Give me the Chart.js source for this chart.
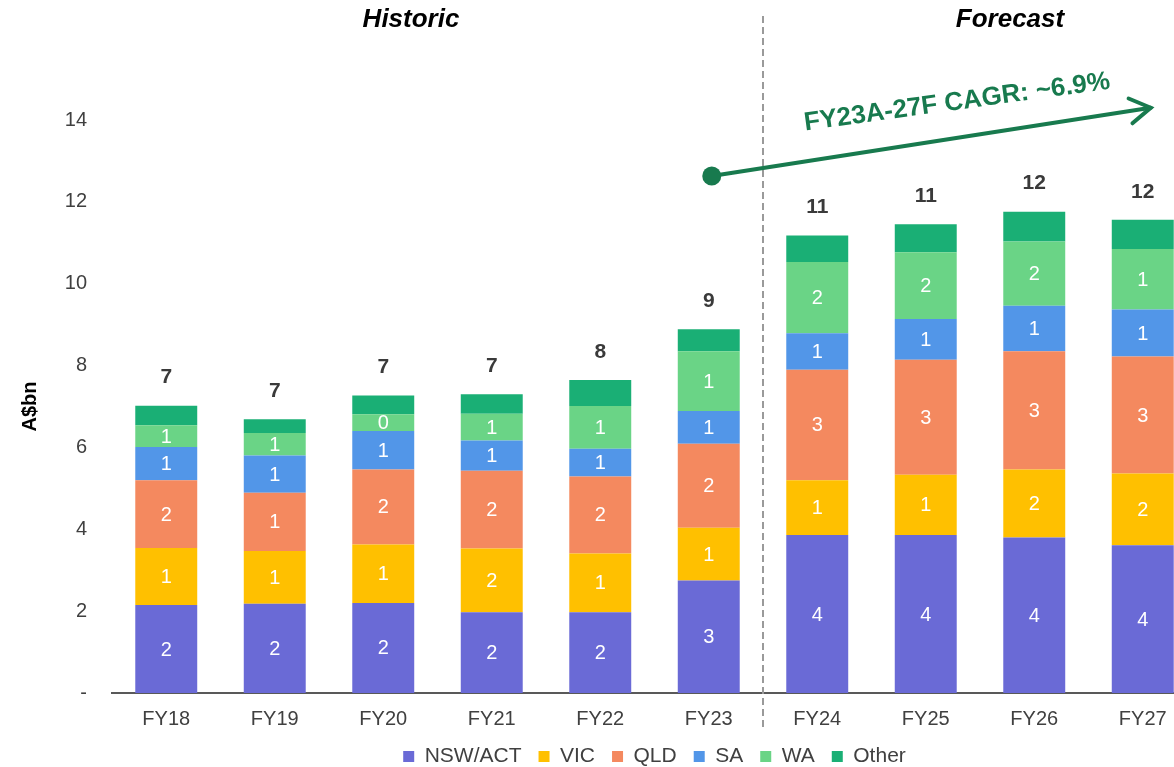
<!DOCTYPE html>
<html>
<head>
<meta charset="utf-8">
<script src="https://cdn.jsdelivr.net/npm/chart.js@4.4.1/dist/chart.umd.min.js"></script>
<style>
  html, body { margin: 0; padding: 0; background: #fff; overflow: hidden; }
  #wrap { width: 1210px; height: 777px; position: relative; }
</style>
</head>
<body>
<div id="wrap"><canvas id="grafico"></canvas></div>
<script>
// Datos (A$bn)
const categorias = ['FY18', 'FY19', 'FY20', 'FY21', 'FY22', 'FY23', 'FY24', 'FY25', 'FY26', 'FY27'];
const nswAct = [2.15, 2.18, 2.20, 1.97, 1.97, 2.75, 3.86, 3.86, 3.80, 3.61];
const vic    = [1.39, 1.29, 1.43, 1.56, 1.44, 1.29, 1.34, 1.47, 1.66, 1.75];
const qld    = [1.66, 1.42, 1.83, 1.90, 1.88, 2.05, 2.70, 2.81, 2.89, 2.86];
const sa     = [0.81, 0.91, 0.94, 0.74, 0.68, 0.80, 0.89, 1.00, 1.11, 1.15];
const wa     = [0.53, 0.55, 0.41, 0.65, 1.04, 1.46, 1.74, 1.63, 1.57, 1.48];
const otros  = [0.48, 0.34, 0.46, 0.48, 0.64, 0.54, 0.65, 0.68, 0.73, 0.71];
const ticksY = [0, 2, 4, 6, 8, 10, 12, 14];
const textoCagr = 'FY23A-27F CAGR: ~6.9%';

const FUENTE = '"Liberation Sans", Arial, sans-serif';
const VERDE = '#187A4E';

// 1) Plugin para etiquetas, linea divisoria y flecha CAGR
const anotaciones = {
  id: 'anotaciones',
  afterDatasetsDraw(chart) {
    const { ctx, scales: { x, y } } = chart;
    ctx.save();

    // etiquetas dentro de cada segmento (menos "Other")
    ctx.font = '20px ' + FUENTE;
    ctx.fillStyle = '#ffffff';
    ctx.textAlign = 'center';
    ctx.textBaseline = 'middle';
    for (let d = 0; d < 5; d++) {
      const meta = chart.getDatasetMeta(d);
      meta.data.forEach((el, i) => {
        const v = chart.data.datasets[d].data[i];
        ctx.fillText(String(Math.round(v)), el.x, (el.y + el.base) / 2 + 1);
      });
    }

    // totales arriba de cada barra
    ctx.font = 'bold 21px ' + FUENTE;
    ctx.fillStyle = '#3a3a3a';
    const ultimo = chart.getDatasetMeta(chart.data.datasets.length - 1);
    ultimo.data.forEach((el, i) => {
      let total = 0;
      chart.data.datasets.forEach(ds => { total += ds.data[i]; });
      ctx.fillText(String(Math.round(total)), el.x, el.y - 28);
    });

    // linea punteada entre historico y pronostico
    const xDiv = (x.getPixelForValue(5) + x.getPixelForValue(6)) / 2;
    ctx.strokeStyle = '#9a9a9a';
    ctx.lineWidth = 2;
    ctx.setLineDash([7, 4]);
    ctx.beginPath();
    ctx.moveTo(xDiv, 16);
    ctx.lineTo(xDiv, 730);
    ctx.stroke();
    ctx.setLineDash([]);

    // titulos de seccion
    ctx.font = 'italic bold 26px ' + FUENTE;
    ctx.fillStyle = '#000';
    ctx.fillText('Historic', 411, 20);
    ctx.fillText('Forecast', 1010, 20);

    // flecha CAGR
    const x0 = x.getPixelForValue(5) + 3, y0 = y.getPixelForValue(12.63);
    const x1 = x.getPixelForValue(9) + 8, y1 = y.getPixelForValue(14.3);
    const ang = Math.atan2(y1 - y0, x1 - x0);
    ctx.strokeStyle = VERDE;
    ctx.fillStyle = VERDE;
    ctx.lineWidth = 4;
    ctx.lineCap = 'round';
    ctx.beginPath();
    ctx.moveTo(x0, y0);
    ctx.lineTo(x1, y1);
    ctx.stroke();
    ctx.beginPath();
    ctx.moveTo(x1 - 24 * Math.cos(ang - 0.55), y1 - 24 * Math.sin(ang - 0.55));
    ctx.lineTo(x1, y1);
    ctx.lineTo(x1 - 24 * Math.cos(ang + 0.55), y1 - 24 * Math.sin(ang + 0.55));
    ctx.stroke();
    ctx.beginPath();
    ctx.arc(x0, y0, 9.5, 0, Math.PI * 2);
    ctx.fill();

    ctx.translate(958, 109.5);
    ctx.rotate(-7.8 * Math.PI / 180);
    ctx.font = 'bold 26px ' + FUENTE;
    ctx.textBaseline = 'alphabetic';
    ctx.fillText(textoCagr, 0, 0);

    ctx.restore();
  }
};

// 2) Armar el grafico
const ctx = document.getElementById('grafico').getContext('2d');
new Chart(ctx, {
  type: 'bar',
  data: {
    labels: categorias,
    datasets: [
      { label: 'NSW/ACT', data: nswAct, backgroundColor: '#6A6AD6' },
      { label: 'VIC',     data: vic,    backgroundColor: '#FFC000' },
      { label: 'QLD',     data: qld,    backgroundColor: '#F4895F' },
      { label: 'SA',      data: sa,     backgroundColor: '#5296E8' },
      { label: 'WA',      data: wa,     backgroundColor: '#6AD486' },
      { label: 'Other',   data: otros,  backgroundColor: '#1AAF75' }
    ]
  },
  options: {
    responsive: true,
    maintainAspectRatio: false,
    animation: false,
    layout: { padding: { top: 120, left: 14, right: 13, bottom: 0 } },
    datasets: { bar: { barPercentage: 0.571, categoryPercentage: 1, borderWidth: 0 } },
    scales: {
      x: {
        stacked: true,
        grid: { display: false, drawTicks: false },
        border: { display: true, color: '#595959', width: 2 },
        ticks: { color: '#404040', font: { family: FUENTE, size: 20 }, padding: 14 },
        afterFit: s => { s.height = 36; }
      },
      y: {
        stacked: true,
        min: 0,
        max: 14,
        grid: { display: false, drawTicks: false },
        border: { display: false },
        afterBuildTicks: s => { s.ticks = ticksY.map(v => ({ value: v })); },
        afterFit: s => { s.width = 98; },
        ticks: {
          color: '#404040',
          font: { family: FUENTE, size: 20 },
          padding: 25,
          callback: v => (v === 0 ? '-' : v)
        },
        title: {
          display: true,
          text: 'A$bn',
          color: '#000',
          font: { family: FUENTE, size: 20, weight: 'bold' }
        }
      }
    },
    plugins: {
      legend: {
        position: 'bottom',
        fullSize: false,
        labels: {
          boxWidth: 11,
          boxHeight: 11,
          padding: 17,
          color: '#404040',
          font: { family: FUENTE, size: 21 }
        }
      },
      tooltip: { enabled: false }
    }
  },
  plugins: [anotaciones]
});
</script>
</body>
</html>
